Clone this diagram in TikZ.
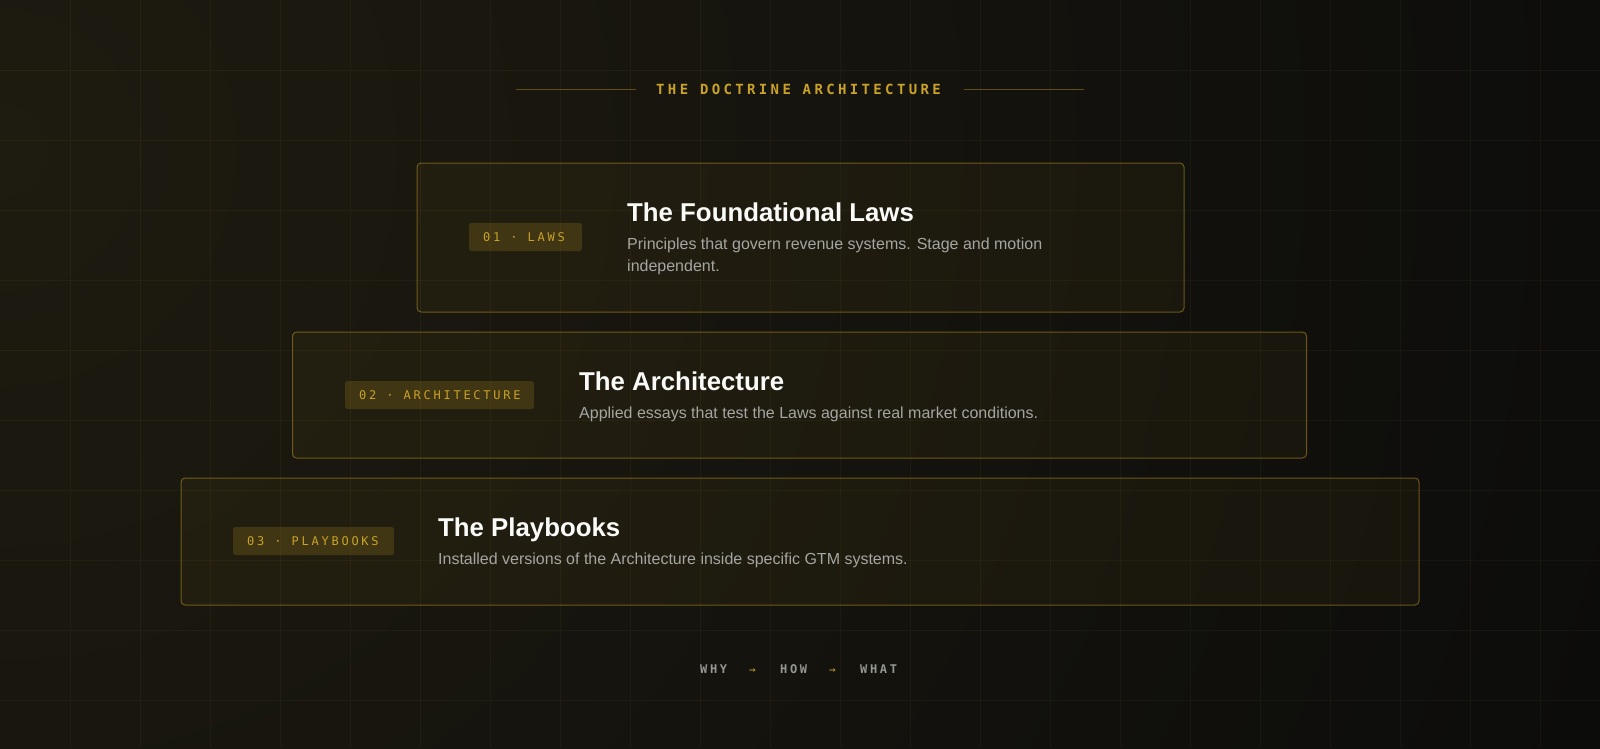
\documentclass[tikz,border=0pt]{standalone}
\usepackage{fontspec}
\setmainfont{Liberation Sans}
\newfontfamily\monohead[LetterSpace=24]{DejaVu Sans Mono Bold}
\newfontfamily\monopill[LetterSpace=23]{DejaVu Sans Mono}
\newfontfamily\monofoot[LetterSpace=22]{DejaVu Sans Mono Bold}
\definecolor{gold}{RGB}{201,162,39}
\definecolor{bgdark}{RGB}{12,12,11}
\definecolor{bgwarm}{RGB}{30,27,16}
\definecolor{titlec}{RGB}{250,250,248}
\definecolor{descc}{RGB}{165,165,162}
\definecolor{footc}{RGB}{150,150,147}
\tikzset{
  gridline/.style={draw=gold, draw opacity=0.06, line width=1pt},
  tierbox/.style={draw=gold, draw opacity=0.48, fill=gold, fill opacity=0.05, rounded corners=4pt, line width=1pt, inner sep=0pt},
  pill/.style={fill=gold, fill opacity=0.19, rounded corners=2.5pt, inner sep=0pt},
  pilltext/.style={anchor=base west, text=gold, font=\monopill\fontsize{12}{14}\selectfont, inner sep=0pt},
  tiertitle/.style={anchor=base west, text=titlec, font=\bfseries\fontsize{25.8}{30}\selectfont, inner sep=0pt},
  tierdesc/.style={anchor=base west, text=descc, font=\fontsize{16}{22}\selectfont, inner sep=0pt},
  foot/.style={anchor=base west, text=footc, font=\monofoot\fontsize{12}{14}\selectfont, inner sep=0pt},
  footarrow/.style={anchor=base west, text=gold, font=\fontspec{DejaVu Sans Mono}\fontsize{11}{14}\selectfont, inner sep=0pt},
  headline/.style={draw=gold, draw opacity=0.42, line width=1pt}
}
\begin{document}
\begin{tikzpicture}[x=1pt,y=-1pt]
\useasboundingbox (0,0) rectangle (1600,748);
% background
\fill[bgdark] (-4,-4) rectangle (1604,752);
\begin{scope}
\clip (-4,-4) rectangle (1604,752);
\shade[inner color=bgwarm, outer color=bgdark] (0,150) circle (1700);
\end{scope}
% grid
\foreach \gx in {70,140,...,1540} \draw[gridline] (\gx,0) -- (\gx,748);
\foreach \gy in {70,140,...,700} \draw[gridline] (0,\gy) -- (1600,\gy);
% header
\node[anchor=base west, text=gold, font=\monohead\fontsize{14}{16}\selectfont, inner sep=0pt] (head) at (656,94) {THE DOCTRINE ARCHITECTURE};
\coordinate (hl1) at (516,89);
\coordinate (hl2) at (636,89);
\coordinate (hr1) at (964,89);
\coordinate (hr2) at (1084,89);
\draw[headline] (hl1) -- (hl2);
\draw[headline] (hr1) -- (hr2);
% tier 1
\node[tierbox, minimum width=767pt, minimum height=149pt] (b1) at (800.5,237.5) {};
\node[pill, minimum width=113pt, minimum height=28pt] (p1) at (525.5,237) {};
\node[pilltext] (p1t) at (483,241.3) {01 · LAWS};
\node[tiertitle] (t1) at (627,221) {The Foundational Laws};
\node[tierdesc] (d1a) at (627,249.3) {Principles that govern revenue systems. Stage and motion};
\node[tierdesc] (d1b) at (627,271.3) {independent.};
% tier 2
\node[tierbox, minimum width=1014pt, minimum height=126pt] (b2) at (799.5,395) {};
\node[pill, minimum width=189pt, minimum height=28pt] (p2) at (439.5,395) {};
\node[pilltext] (p2t) at (359,399.3) {02 · ARCHITECTURE};
\node[tiertitle] (t2) at (579,390) {The Architecture};
\node[tierdesc] (d2) at (579,418) {Applied essays that test the Laws against real market conditions.};
% tier 3
\node[tierbox, minimum width=1238pt, minimum height=127pt] (b3) at (800,541.5) {};
\node[pill, minimum width=161pt, minimum height=28pt] (p3) at (313.5,541) {};
\node[pilltext] (p3t) at (247,545.3) {03 · PLAYBOOKS};
\node[tiertitle] (t3) at (438,536.5) {The Playbooks};
\node[tierdesc] (d3) at (438,564.5) {Installed versions of the Architecture inside specific GTM systems.};
% footer
\node[foot] (why) at (700,673.5) {WHY};
\node[footarrow] (a1) at (749,673) {→};
\node[foot] (how) at (780,673.5) {HOW};
\node[footarrow] (a2) at (829,673) {→};
\node[foot] (what) at (860,673.5) {WHAT};
\end{tikzpicture}
\end{document}
